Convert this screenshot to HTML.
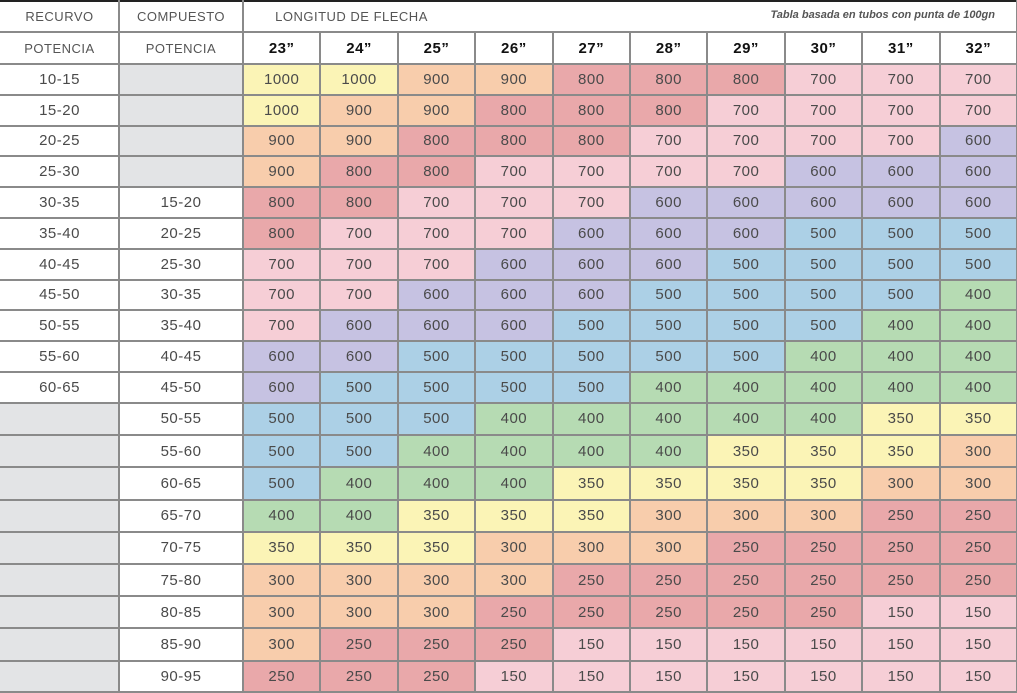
<!DOCTYPE html>
<html><head><meta charset="utf-8"><style>
html,body{margin:0;width:1017px;height:693px;background:#fff;overflow:hidden;position:relative;font-family:"Liberation Sans",sans-serif}
.c{position:absolute;box-sizing:border-box;display:flex;align-items:center;justify-content:center;color:#4a4a4a;font-size:15px;letter-spacing:0.5px}
.h{font-size:13px;color:#555}
.b{font-weight:bold;color:#111;font-size:15px}
.vl,.hl{position:absolute;background:#8a8a8a}
</style></head><body>
<script>
const data=[
["10-15","",[1000,1000,900,900,800,800,800,700,700,700]],
["15-20","",[1000,900,900,800,800,800,700,700,700,700]],
["20-25","",[900,900,800,800,800,700,700,700,700,600]],
["25-30","",[900,800,800,700,700,700,700,600,600,600]],
["30-35","15-20",[800,800,700,700,700,600,600,600,600,600]],
["35-40","20-25",[800,700,700,700,600,600,600,500,500,500]],
["40-45","25-30",[700,700,700,600,600,600,500,500,500,500]],
["45-50","30-35",[700,700,600,600,600,500,500,500,500,400]],
["50-55","35-40",[700,600,600,600,500,500,500,500,400,400]],
["55-60","40-45",[600,600,500,500,500,500,500,400,400,400]],
["60-65","45-50",[600,500,500,500,500,400,400,400,400,400]],
["","50-55",[500,500,500,400,400,400,400,400,350,350]],
["","55-60",[500,500,400,400,400,400,350,350,350,300]],
["","60-65",[500,400,400,400,350,350,350,350,300,300]],
["","65-70",[400,400,350,350,350,300,300,300,250,250]],
["","70-75",[350,350,350,300,300,300,250,250,250,250]],
["","75-80",[300,300,300,300,250,250,250,250,250,250]],
["","80-85",[300,300,300,250,250,250,250,250,150,150]],
["","85-90",[300,250,250,250,150,150,150,150,150,150]],
["","90-95",[250,250,250,150,150,150,150,150,150,150]]];
const col={1000:"#fbf4b6",900:"#f8cdac",800:"#e9a8aa",700:"#f6ced6",600:"#c6c2e2",500:"#acd0e6",400:"#b6dbb3",350:"#fbf4b6",300:"#f8cdac",250:"#e9a8aa",150:"#f6ced6"};
const gray="#e3e4e6";
let h="";
const X=[0,119,243];for(let i=1;i<=10;i++)X.push(243+i*77.4);
const Y=[0,32,64];for(let i=1;i<=11;i++)Y.push(64+i*30.8);for(let i=1;i<=9;i++)Y.push(403+i*32.2);
function cell(x0,y0,x1,y1,t,bg,cls){h+=`<div class="c ${cls||''}" style="left:${x0}px;top:${y0}px;width:${x1-x0}px;height:${y1-y0}px;background:${bg||'transparent'}">${t}</div>`;}
cell(0,0,119,32,"RECURVO","","h");cell(119,0,243,32,"COMPUESTO","","h");
cell(243,0,460,32,"LONGITUD DE FLECHA","","h");
h+=`<div style="position:absolute;right:22px;top:9px;font-size:11px;font-weight:bold;font-style:italic;color:#555">Tabla basada en tubos con punta de 100gn</div>`;
cell(0,32,119,64,"POTENCIA","","h");cell(119,32,243,64,"POTENCIA","","h");
for(let i=0;i<10;i++)cell(X[i+2],32,X[i+3],64,(23+i)+"”","","b");
data.forEach((r,j)=>{const y0=Y[j+2],y1=Math.min(Y[j+3],693);
cell(0,y0,119,y1,r[0],r[0]?"":gray);cell(119,y0,243,y1,r[1],r[1]?"":gray);
r[2].forEach((v,i)=>cell(X[i+2],y0,X[i+3],y1,v,col[v]));});
Y.forEach((y,k)=>{if(k==0)return;const yy=Math.min(Math.round(y)-1,691);h+=`<div class="hl" style="left:0;top:${yy}px;width:1017px;height:2px"></div>`;});
h+=`<div class="hl" style="left:0;top:0;width:1017px;height:2px;background:#222"></div>`;
X.forEach((x,k)=>{if(k==0)return;const top=k>=3&&k<X.length-1?32:0;const last=k==X.length-1;const xx=last?1016:Math.round(x)-1;h+=`<div class="vl" style="left:${xx}px;top:${top}px;width:${last?1:2}px;height:${693-top}px"></div>`;});
document.body.innerHTML=h;
</script>
</body></html>
